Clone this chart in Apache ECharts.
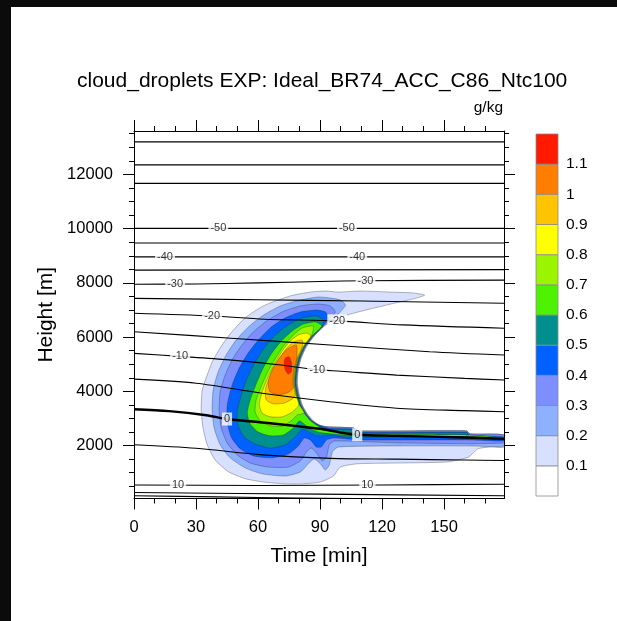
<!DOCTYPE html>
<html>
<head>
<meta charset="utf-8">
<script src="https://cdn.jsdelivr.net/npm/echarts@6.0.0/dist/echarts.min.js"></script>
<style>
html,body{margin:0;padding:0;background:#0b0b0b;}
#paper{position:absolute;left:11px;top:7px;right:0;bottom:0;background:#fff;}
#chart{position:absolute;left:0;top:0;width:617px;height:621px;}
</style>
</head>
<body>
<div id="paper"></div>
<div id="chart"></div>
<script>
// axis ticks
var xMajor = [0, 30, 60, 90, 120, 150];
var xMinor = [10, 20, 40, 50, 70, 80, 100, 110, 130, 140, 160, 170];
var yMajor = [2000, 4000, 6000, 8000, 10000, 12000];
var yMinor = [500, 1000, 1500, 2500, 3000, 3500, 4500, 5000, 5500, 6500, 7000, 7500,
              8500, 9000, 9500, 10500, 11000, 11500, 12500, 13000, 13500];

// colour bar levels (g/kg)
var cbLevels = [0.1, 0.2, 0.3, 0.4, 0.5, 0.6, 0.7, 0.8, 0.9, 1, 1.1];
var cbColors = ['#ffffff', '#d7e1ff', '#8eb1ff', '#7d8ffe', '#0061ff', '#008f8f',
                '#4cf200', '#9cf500', '#ffff00', '#ffc300', '#ff7d00', '#ff1a00'];

// temperature isolines [time min, height m]
var isoLevels = [-65, -60, -55, -50, -45, -40, -35, -30, -25, -20, -15, -10, -5, 0, 5, 10, 15, 20];
var isoPaths = [
    [[0, 13200], [179, 13200]],
    [[0, 12350], [179, 12350]],
    [[0, 11670], [179, 11670]],
    [[0, 10010], [179, 10010]],
    [[0, 9470], [179, 9470]],
    [[0, 8960], [179, 8960]],
    [[0, 8470], [179, 8490]],
    [[0, 7950], [30, 7960], [60, 8000], [90, 8050], [112, 8080], [179, 8100]],
    [[0, 7430], [60, 7380], [110, 7330], [179, 7250]],
    [[0, 6880], [38, 6780], [63, 6660], [98, 6600], [130, 6450], [179, 6330]],
    [[0, 6200], [47, 5960], [95, 5710], [143, 5460], [179, 5340]],
    [[0, 5400], [22, 5290], [46, 5160], [71, 4970], [88, 4800], [100, 4740], [127, 4600], [160, 4480], [179, 4420]],
    [[0, 4450], [30, 4300], [62, 3930], [95, 3620], [127, 3380], [160, 3290], [179, 3250]],
    [[0, 3340], [17, 3270], [35, 3120], [45, 2980], [61, 2860], [80, 2710], [90, 2620], [100, 2480], [108, 2400], [128, 2360], [160, 2300], [179, 2250]],
    [[0, 2030], [30, 1900], [62, 1660], [95, 1530], [127, 1500], [160, 1470], [179, 1450]],
    [[0, 550], [60, 530], [120, 550], [179, 575]],
    [[0, 270], [90, 210], [179, 150]],
    [[0, 150], [40, 110], [80, 70], [107, 50]]
];
var isoLabels = [
    [40.8, 10010, '-50'], [103, 10010, '-50'],
    [15, 8960, '-40'], [108, 8960, '-40'],
    [19.9, 7952, '-30'], [112, 8080, '-30'],
    [37.8, 6785, '-20'], [98.3, 6600, '-20'],
    [22.3, 5290, '-10'], [88.6, 4795, '-10'],
    [45, 2980, '0'], [108, 2400, '0'],
    [21.3, 542, '10'], [112.9, 550, '10']
];

// cloud droplet mixing ratio, filled contour outlines per level [time min, height m]
var cloud01 = [[98.9, 7660], [109.5, 7700], [124.1, 7660], [134.7, 7630], [140.6, 7550], [136.7, 7440],
    [126.5, 7260], [114.4, 7040], [104.7, 6850], [97.4, 6670], [92.1, 6410], [87.2, 6040], [83.4, 5640],
    [80.9, 5230], [79.5, 4790], [79.0, 4310], [80.0, 3870], [81.4, 3500], [83.9, 3170], [86.8, 2910],
    [90.2, 2730], [94.0, 2690], [106.1, 2650], [108.6, 2540], [160.9, 2540], [162.4, 2430], [179, 2390],
    [179, 1950], [172.6, 1950], [166.3, 1880], [161.9, 1580], [151.7, 1400], [128.9, 1360], [108.1, 1330],
    [99.8, 1210], [96.5, 880], [90.2, 660], [81.4, 590], [73.2, 590], [62.5, 660], [53.8, 780],
    [45.6, 1040], [39.3, 1470], [35.4, 2030], [33.4, 2650], [32.5, 3320], [33.0, 4050], [35.4, 4600],
    [37.8, 5080], [41.7, 5600], [46.5, 6120], [53.8, 6710], [62.5, 7150], [75.6, 7520], [85.3, 7660], [92.6, 7700]];
var cloud02 = [[95.0, 7440], [99.8, 7370], [102.3, 7180], [99.8, 6930], [96.5, 6670], [91.9, 6410],
    [87.0, 6040], [83.1, 5640], [80.7, 5230], [79.2, 4790], [78.8, 4310], [79.7, 3870], [81.2, 3500],
    [83.6, 3170], [86.5, 2910], [90.2, 2730], [94.0, 2690], [106.1, 2650], [108.6, 2540], [160.9, 2540],
    [162.4, 2430], [179, 2390], [179, 1990], [162.9, 1990], [128.9, 1990], [98.9, 1950], [96.0, 1770],
    [94.5, 1290], [92.6, 1100], [90.2, 1330], [87.2, 1510], [84.3, 1330], [80.5, 1030], [73.2, 880],
    [62.0, 960], [53.8, 1180], [46.5, 1550], [41.7, 2030], [38.8, 2650], [37.8, 3320], [38.3, 4050],
    [40.7, 4710], [44.6, 5340], [49.4, 5890], [55.3, 6370], [62.0, 6780], [70.8, 7150], [80.5, 7370], [89.2, 7480]];
var cloud03 = [[95.0, 7150], [97.4, 6930], [95.0, 6710], [91.6, 6410], [86.8, 6040], [82.9, 5640],
    [80.5, 5230], [79.0, 4790], [78.5, 4310], [79.5, 3870], [80.9, 3500], [83.4, 3170], [86.3, 2910],
    [89.7, 2760], [94.0, 2690], [106.1, 2650], [108.6, 2540], [160.9, 2540], [162.4, 2430], [179, 2390],
    [179, 2100], [128.9, 2100], [96.9, 2170], [94.5, 2030], [93.1, 1580], [91.1, 1440], [88.7, 1690],
    [85.8, 1910], [83.4, 1770], [80.5, 1440], [74.6, 1210], [64.9, 1210], [56.2, 1360], [49.9, 1660],
    [45.1, 2100], [42.2, 2650], [41.2, 3320], [41.7, 3980], [44.1, 4600], [47.5, 5160], [51.9, 5670],
    [57.2, 6150], [63.5, 6560], [71.7, 6930], [80.5, 7150], [89.2, 7220]];
var cloud04 = [[92.6, 6930], [94.0, 6710], [91.4, 6410], [86.5, 6040], [82.6, 5640], [80.2, 5230],
    [78.8, 4790], [78.3, 4310], [79.2, 3870], [80.7, 3500], [83.1, 3170], [86.0, 2910], [89.2, 2760],
    [94.0, 2650], [106.1, 2610], [108.6, 2500], [160.9, 2500], [162.4, 2390], [179, 2320], [179, 2170],
    [162.9, 2210], [109.5, 2210], [96.5, 2280], [93.1, 2210], [90.6, 1950], [88.2, 1950], [85.3, 2210],
    [82.4, 2280], [79.5, 1990], [74.6, 1690], [66.9, 1550], [57.7, 1620], [51.4, 1880], [47.0, 2320],
    [45.1, 2870], [45.1, 3500], [47.5, 4240], [50.9, 4860], [55.3, 5420], [60.1, 5890], [65.9, 6340],
    [73.2, 6710], [80.5, 6930], [88.2, 7000]];
var cloud05 = [[91.6, 6630], [91.1, 6410], [86.3, 6040], [82.4, 5640], [80.0, 5230], [78.5, 4790],
    [78.0, 4310], [79.0, 3870], [80.5, 3500], [82.9, 3170], [85.8, 2910], [88.7, 2760], [94.0, 2610],
    [104.7, 2580], [108.6, 2470], [160.9, 2470], [162.4, 2360], [179, 2280], [179, 2210], [160.9, 2280],
    [102.3, 2320], [95.0, 2390], [91.1, 2360], [88.2, 2360], [84.8, 2500], [81.4, 2610], [78.5, 2360],
    [73.2, 2030], [65.9, 1910], [58.6, 2060], [53.3, 2320], [50.4, 2730], [49.9, 3240], [51.9, 3870],
    [54.8, 4490], [58.6, 5080], [63.0, 5600], [68.3, 6080], [74.6, 6450], [81.4, 6710], [88.2, 6780]];
var cloud06 = [[87.7, 6560], [90.9, 6410], [86.0, 6040], [82.2, 5640], [79.7, 5230], [78.3, 4790],
    [77.8, 4310], [78.8, 3870], [80.2, 3500], [82.6, 3170], [85.5, 2910], [88.2, 2760], [92.6, 2580],
    [102.3, 2500], [109.5, 2430], [162.9, 2390], [179, 2280], [179, 2250], [162.9, 2340], [102.3, 2390],
    [91.1, 2470], [86.3, 2580], [82.9, 2760], [80.0, 2910], [77.1, 2650], [72.2, 2390], [65.9, 2360],
    [60.1, 2500], [56.2, 2800], [54.8, 3200], [56.2, 3680], [59.1, 4270], [62.5, 4860], [66.4, 5380],
    [71.3, 5860], [76.6, 6230], [81.9, 6480]];
var cloud07 = [[86.8, 6410], [85.8, 6040], [81.9, 5640], [79.5, 5230], [78.0, 4790], [77.6, 4310],
    [78.5, 3870], [80.0, 3500], [82.4, 3200], [79.0, 3130], [76.6, 2950], [72.2, 2730], [65.9, 2730],
    [61.1, 2910], [58.6, 3240], [59.1, 3680], [61.6, 4200], [64.9, 4750], [68.8, 5270], [72.7, 5710],
    [77.1, 6080], [81.4, 6340]];
var cloud07b = [[110.5, 2400], [160.9, 2390], [160.9, 2340], [110.5, 2350]];
var cloud08 = [[83.4, 6150], [85.5, 6040], [81.7, 5640], [79.2, 5230], [77.8, 4790], [77.3, 4310],
    [78.3, 3870], [79.7, 3500], [76.6, 3240], [71.7, 3060], [65.9, 3060], [62.0, 3200], [60.6, 3540],
    [62.0, 3980], [64.9, 4530], [68.3, 5050], [71.7, 5490], [75.6, 5860], [79.5, 6080]];
var cloud09 = [[81.4, 5890], [81.4, 5640], [79.0, 5230], [77.6, 4790], [77.1, 4310], [78.0, 3870],
    [76.6, 3720], [72.7, 3570], [67.4, 3540], [64.0, 3680], [63.5, 4050], [65.9, 4570], [69.3, 5080],
    [73.2, 5530], [77.1, 5820]];
var cloud10 = [[78.5, 5710], [78.8, 5230], [77.3, 4790], [76.8, 4310], [77.1, 4130], [75.1, 3980],
    [70.3, 3870], [65.9, 3980], [64.9, 4350], [66.9, 4790], [70.3, 5230], [74.2, 5560]];
var cloud11 = [[73.2, 5230], [75.1, 5270], [76.1, 5080], [76.1, 4720], [74.6, 4640], [73.2, 4790], [72.7, 5050]];

var cloudShapes = [[cloud01], [cloud02], [cloud03], [cloud04], [cloud05], [cloud06],
                   [cloud07, cloud07b], [cloud08], [cloud09], [cloud10], [cloud11]];

var FONT = '"Liberation Sans", Arial, Helvetica, sans-serif';

var cloudPolys = [];
cloudShapes.forEach(function (shapes, k) {
    shapes.forEach(function (pts) {
        cloudPolys.push({level: k + 1, pts: pts});
    });
});

function tickAxis(extra) {
    var base = {
        type: 'value',
        axisLine: {show: false, onZero: false, lineStyle: {color: '#000', width: 1}},
        axisTick: {show: true, length: 11, lineStyle: {color: '#000', width: 1}},
        axisLabel: {show: false},
        splitLine: {show: false}
    };
    return echarts.util.merge(base, extra, true);
}

function plainNum(v) {
    return String(v);
}

var chart = echarts.init(document.getElementById('chart'), null, {renderer: 'canvas'});

var series = [];
series.push({
    type: 'custom',
    xAxisIndex: 0,
    yAxisIndex: 0,
    clip: true,
    z: 1,
    silent: true,
    data: cloudPolys.map(function (p, i) { return [p.pts[0][0], p.pts[0][1], i]; }),
    renderItem: function (params, api) {
        var p = cloudPolys[params.dataIndex];
        return {
            type: 'polygon',
            shape: {points: p.pts.map(function (q) { return api.coord(q); }), smooth: 0.2},
            style: {fill: cbColors[p.level], stroke: 'rgba(40,40,40,0.55)', lineWidth: 0.6}
        };
    }
});
isoPaths.forEach(function (path, i) {
    series.push({
        type: 'line',
        xAxisIndex: 0,
        yAxisIndex: 0,
        data: path,
        symbol: 'none',
        smooth: 0.3,
        silent: true,
        z: 3,
        lineStyle: {color: '#000', width: isoLevels[i] === 0 ? 2.4 : 1.1}
    });
});
series.push({
    type: 'scatter',
    xAxisIndex: 0,
    yAxisIndex: 0,
    z: 4,
    symbol: 'rect',
    symbolSize: 1,
    itemStyle: {color: 'rgba(0,0,0,0)'},
    data: isoLabels,
    label: {
        show: true,
        position: 'inside',
        formatter: function (p) { return p.data[2]; },
        backgroundColor: '#fff',
        padding: [1, 2],
        fontSize: 11,
        fontFamily: FONT,
        color: '#000'
    }
});
// colour bar
series.push({
    type: 'custom',
    xAxisIndex: 4,
    yAxisIndex: 4,
    silent: true,
    data: cbColors.map(function (c, i) { return [0, i, i]; }),
    renderItem: function (params, api) {
        var i = params.dataIndex;
        var lo = api.coord([0, i / 10]);
        var hi = api.coord([1, (i + 1) / 10]);
        return {
            type: 'rect',
            shape: {x: lo[0], y: hi[1], width: hi[0] - lo[0], height: lo[1] - hi[1]},
            style: {fill: cbColors[i], stroke: '#8c8c8c', lineWidth: 0.8}
        };
    }
});

var option = {
    animation: false,
    backgroundColor: 'transparent',
    title: {
        text: 'cloud_droplets EXP: Ideal_BR74_ACC_C86_Ntc100',
        left: 72,
        top: 66,
        textStyle: {fontSize: 21, fontWeight: 'normal', color: '#000', fontFamily: FONT}
    },
    graphic: [{
        type: 'text',
        right: 114,
        top: 100,
        style: {text: 'g/kg', font: '15.5px ' + FONT, fill: '#000'}
    }],
    grid: [
        {left: 134, right: 113, top: 131, bottom: 122.5},
        {left: 536, top: 134, width: 22, height: 362}
    ],
    xAxis: [
        tickAxis({gridIndex: 0, position: 'bottom', min: 0, max: 179,
            axisLine: {show: true},
            axisTick: {customValues: xMajor},
            axisLabel: {show: true, customValues: xMajor, fontSize: 16.5, color: '#000', margin: 20,
                fontFamily: FONT, formatter: plainNum},
            name: 'Time [min]', nameLocation: 'middle', nameGap: 47,
            nameTextStyle: {fontSize: 21, color: '#000', fontFamily: FONT}}),
        tickAxis({gridIndex: 0, position: 'bottom', min: 0, max: 179, axisTick: {customValues: xMinor, length: 5}}),
        tickAxis({gridIndex: 0, position: 'top', min: 0, max: 179, axisLine: {show: true}, axisTick: {customValues: xMajor}}),
        tickAxis({gridIndex: 0, position: 'top', min: 0, max: 179, axisTick: {customValues: xMinor, length: 5}}),
        {gridIndex: 1, type: 'value', min: 0, max: 1, show: false}
    ],
    yAxis: [
        tickAxis({gridIndex: 0, position: 'left', min: 50, max: 13600,
            axisLine: {show: true},
            axisTick: {customValues: yMajor},
            axisLabel: {show: true, customValues: yMajor, fontSize: 16.5, color: '#000', margin: 21,
                fontFamily: FONT, formatter: plainNum},
            name: 'Height [m]', nameLocation: 'middle', nameGap: 77,
            nameTextStyle: {fontSize: 21, color: '#000', fontFamily: FONT}}),
        tickAxis({gridIndex: 0, position: 'left', min: 50, max: 13600, axisTick: {customValues: yMinor, length: 5}}),
        tickAxis({gridIndex: 0, position: 'right', min: 50, max: 13600, axisLine: {show: true}, axisTick: {customValues: yMajor}}),
        tickAxis({gridIndex: 0, position: 'right', min: 50, max: 13600, axisTick: {customValues: yMinor, length: 5}}),
        {gridIndex: 1, type: 'value', min: 0, max: 1.2, position: 'right',
            axisLine: {show: false}, axisTick: {show: false}, splitLine: {show: false},
            axisLabel: {show: true, customValues: cbLevels, fontSize: 15.5, color: '#000', margin: 8, fontFamily: FONT,
                formatter: plainNum}}
    ],
    series: series
};
chart.setOption(option);
</script>
</body>
</html>
